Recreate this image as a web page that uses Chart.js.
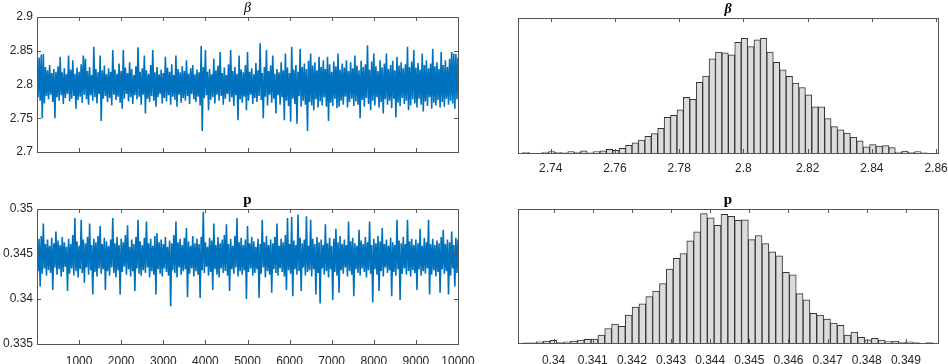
<!DOCTYPE html>
<html>
<head>
<meta charset="utf-8">
<script src="https://cdn.jsdelivr.net/npm/chart.js@4"></script>
<style>
html, body { margin: 0; padding: 0; background: #fff; width: 948px; height: 364px; overflow: hidden; }
canvas { position: absolute; }
</style>
</head>
<body>
<canvas id="betaTrace"></canvas>
<canvas id="betaHist"></canvas>
<canvas id="pTrace"></canvas>
<canvas id="pHist"></canvas>
<script>
const traceStep = 25;
const betaTrace = [
  2.835, 2.781, 2.840, 2.776, 2.844, 2.750, 2.845, 2.772, 2.826, 2.783, 2.821, 2.778, 2.829, 2.785, 2.817, 2.774, 2.823, 2.750, 2.819, 2.781,
  2.827, 2.776, 2.841, 2.784, 2.818, 2.771, 2.824, 2.780, 2.815, 2.786, 2.843, 2.775, 2.822, 2.779, 2.836, 2.783, 2.816, 2.764, 2.825, 2.777,
  2.819, 2.782, 2.830, 2.773, 2.843, 2.785, 2.838, 2.778, 2.820, 2.770, 2.826, 2.784, 2.814, 2.776, 2.856, 2.781, 2.823, 2.772, 2.818, 2.786,
  2.843, 2.746, 2.821, 2.779, 2.828, 2.783, 2.815, 2.774, 2.824, 2.780, 2.819, 2.769, 2.851, 2.785, 2.822, 2.777, 2.816, 2.782, 2.831, 2.773,
  2.820, 2.764, 2.851, 2.779, 2.825, 2.786, 2.817, 2.775, 2.833, 2.781, 2.823, 2.771, 2.814, 2.784, 2.827, 2.778, 2.855, 2.782, 2.819, 2.770,
  2.824, 2.785, 2.843, 2.757, 2.821, 2.779, 2.816, 2.774, 2.829, 2.783, 2.851, 2.776, 2.818, 2.767, 2.826, 2.781, 2.815, 2.786, 2.822, 2.772,
  2.817, 2.780, 2.841, 2.775, 2.825, 2.784, 2.819, 2.770, 2.830, 2.782, 2.814, 2.777, 2.843, 2.767, 2.823, 2.785, 2.818, 2.773, 2.827, 2.780,
  2.820, 2.776, 2.836, 2.783, 2.816, 2.771, 2.824, 2.786, 2.829, 2.778, 2.815, 2.774, 2.822, 2.782, 2.818, 2.769, 2.857, 2.731, 2.826, 2.780,
  2.851, 2.784, 2.819, 2.762, 2.823, 2.777, 2.815, 2.781, 2.838, 2.772, 2.821, 2.785, 2.828, 2.776, 2.848, 2.783, 2.817, 2.770, 2.825, 2.779,
  2.814, 2.786, 2.830, 2.774, 2.851, 2.781, 2.820, 2.768, 2.826, 2.784, 2.816, 2.747, 2.843, 2.778, 2.822, 2.773, 2.818, 2.782, 2.829, 2.762,
  2.848, 2.776, 2.819, 2.785, 2.824, 2.771, 2.815, 2.780, 2.832, 2.774, 2.821, 2.783, 2.861, 2.777, 2.817, 2.750, 2.826, 2.782, 2.851, 2.769,
  2.820, 2.785, 2.828, 2.773, 2.843, 2.779, 2.816, 2.757, 2.823, 2.784, 2.818, 2.770, 2.833, 2.781, 2.821, 2.747, 2.846, 2.776, 2.825, 2.768,
  2.817, 2.745, 2.856, 2.779, 2.822, 2.771, 2.829, 2.742, 2.819, 2.783, 2.853, 2.767, 2.826, 2.776, 2.831, 2.770, 2.823, 2.731, 2.835, 2.774,
  2.846, 2.769, 2.828, 2.762, 2.833, 2.778, 2.821, 2.766, 2.841, 2.775, 2.826, 2.769, 2.836, 2.781, 2.823, 2.767, 2.841, 2.746, 2.830, 2.773,
  2.819, 2.768, 2.834, 2.779, 2.827, 2.765, 2.846, 2.767, 2.822, 2.776, 2.831, 2.770, 2.825, 2.782, 2.836, 2.766, 2.820, 2.774, 2.833, 2.779,
  2.824, 2.768, 2.843, 2.775, 2.828, 2.770, 2.821, 2.750, 2.835, 2.777, 2.826, 2.767, 2.830, 2.780, 2.858, 2.771, 2.822, 2.762, 2.834, 2.776,
  2.846, 2.769, 2.827, 2.781, 2.820, 2.766, 2.836, 2.774, 2.825, 2.757, 2.831, 2.778, 2.846, 2.770, 2.823, 2.776, 2.829, 2.765, 2.835, 2.779,
  2.821, 2.751, 2.841, 2.773, 2.828, 2.768, 2.833, 2.780, 2.824, 2.771, 2.830, 2.776, 2.856, 2.762, 2.826, 2.769, 2.834, 2.778, 2.851, 2.772,
  2.825, 2.766, 2.832, 2.779, 2.822, 2.770, 2.846, 2.760, 2.829, 2.775, 2.836, 2.768, 2.824, 2.781, 2.831, 2.764, 2.853, 2.773, 2.827, 2.769,
  2.833, 2.777, 2.823, 2.766, 2.848, 2.774, 2.829, 2.767, 2.836, 2.779, 2.826, 2.770, 2.838, 2.776, 2.848, 2.772, 2.846, 2.764, 2.845, 2.778,
  2.840
];
const pTrace = [
  0.3463, 0.3431, 0.3467, 0.3414, 0.3470, 0.3428, 0.3484, 0.3434, 0.3461, 0.3426, 0.3466, 0.3432, 0.3459, 0.3429, 0.3468, 0.3410, 0.3462, 0.3435, 0.3475, 0.3427,
  0.3465, 0.3433, 0.3460, 0.3425, 0.3469, 0.3430, 0.3463, 0.3436, 0.3458, 0.3409, 0.3467, 0.3428, 0.3461, 0.3434, 0.3471, 0.3426, 0.3490, 0.3431, 0.3464, 0.3424,
  0.3459, 0.3433, 0.3488, 0.3429, 0.3466, 0.3418, 0.3462, 0.3435, 0.3469, 0.3427, 0.3484, 0.3432, 0.3460, 0.3405, 0.3467, 0.3430, 0.3463, 0.3425, 0.3470, 0.3434,
  0.3481, 0.3428, 0.3461, 0.3433, 0.3468, 0.3410, 0.3464, 0.3431, 0.3459, 0.3426, 0.3466, 0.3435, 0.3490, 0.3429, 0.3462, 0.3424, 0.3469, 0.3432, 0.3460, 0.3405,
  0.3467, 0.3430, 0.3463, 0.3436, 0.3471, 0.3427, 0.3482, 0.3433, 0.3458, 0.3425, 0.3466, 0.3431, 0.3461, 0.3409, 0.3469, 0.3434, 0.3488, 0.3428, 0.3464, 0.3426,
  0.3460, 0.3432, 0.3468, 0.3429, 0.3486, 0.3435, 0.3462, 0.3424, 0.3467, 0.3431, 0.3459, 0.3427, 0.3470, 0.3405, 0.3473, 0.3433, 0.3463, 0.3428, 0.3466, 0.3425,
  0.3461, 0.3434, 0.3469, 0.3430, 0.3458, 0.3426, 0.3465, 0.3392, 0.3462, 0.3432, 0.3471, 0.3429, 0.3486, 0.3424, 0.3463, 0.3435, 0.3467, 0.3427, 0.3460, 0.3431,
  0.3468, 0.3433, 0.3479, 0.3402, 0.3464, 0.3428, 0.3459, 0.3434, 0.3470, 0.3425, 0.3462, 0.3431, 0.3467, 0.3427, 0.3461, 0.3401, 0.3469, 0.3432, 0.3497, 0.3429,
  0.3463, 0.3436, 0.3458, 0.3426, 0.3468, 0.3430, 0.3465, 0.3410, 0.3484, 0.3433, 0.3460, 0.3427, 0.3469, 0.3424, 0.3462, 0.3434, 0.3466, 0.3429, 0.3471, 0.3431,
  0.3483, 0.3426, 0.3461, 0.3409, 0.3467, 0.3433, 0.3459, 0.3428, 0.3470, 0.3435, 0.3490, 0.3425, 0.3463, 0.3431, 0.3468, 0.3427, 0.3460, 0.3432, 0.3466, 0.3400,
  0.3481, 0.3430, 0.3462, 0.3434, 0.3469, 0.3426, 0.3464, 0.3429, 0.3458, 0.3433, 0.3467, 0.3401, 0.3461, 0.3428, 0.3488, 0.3435, 0.3463, 0.3424, 0.3470, 0.3431,
  0.3460, 0.3427, 0.3466, 0.3407, 0.3462, 0.3433, 0.3469, 0.3429, 0.3484, 0.3426, 0.3459, 0.3434, 0.3467, 0.3430, 0.3463, 0.3425, 0.3471, 0.3410, 0.3490, 0.3432,
  0.3461, 0.3428, 0.3491, 0.3403, 0.3465, 0.3433, 0.3460, 0.3427, 0.3494, 0.3431, 0.3468, 0.3409, 0.3462, 0.3435, 0.3466, 0.3426, 0.3492, 0.3430, 0.3459, 0.3432,
  0.3488, 0.3425, 0.3467, 0.3433, 0.3461, 0.3405, 0.3469, 0.3429, 0.3463, 0.3395, 0.3466, 0.3434, 0.3460, 0.3427, 0.3483, 0.3431, 0.3462, 0.3424, 0.3468, 0.3433,
  0.3459, 0.3399, 0.3467, 0.3430, 0.3478, 0.3426, 0.3463, 0.3407, 0.3470, 0.3432, 0.3461, 0.3428, 0.3466, 0.3435, 0.3460, 0.3425, 0.3486, 0.3431, 0.3464, 0.3427,
  0.3468, 0.3403, 0.3462, 0.3433, 0.3459, 0.3429, 0.3477, 0.3426, 0.3465, 0.3434, 0.3461, 0.3430, 0.3469, 0.3424, 0.3463, 0.3432, 0.3486, 0.3428, 0.3460, 0.3396,
  0.3467, 0.3433, 0.3462, 0.3427, 0.3470, 0.3409, 0.3464, 0.3431, 0.3479, 0.3425, 0.3461, 0.3435, 0.3466, 0.3429, 0.3459, 0.3432, 0.3468, 0.3403, 0.3463, 0.3430,
  0.3460, 0.3426, 0.3488, 0.3433, 0.3465, 0.3399, 0.3462, 0.3428, 0.3469, 0.3434, 0.3461, 0.3427, 0.3488, 0.3431, 0.3464, 0.3425, 0.3467, 0.3432, 0.3460, 0.3429,
  0.3466, 0.3410, 0.3462, 0.3433, 0.3478, 0.3426, 0.3459, 0.3431, 0.3468, 0.3428, 0.3463, 0.3434, 0.3488, 0.3405, 0.3461, 0.3427, 0.3467, 0.3432, 0.3460, 0.3425,
  0.3465, 0.3430, 0.3462, 0.3407, 0.3469, 0.3433, 0.3477, 0.3428, 0.3461, 0.3431, 0.3466, 0.3405, 0.3463, 0.3426, 0.3475, 0.3434, 0.3460, 0.3414, 0.3468, 0.3429,
  0.3466
];

// --- Histogram counts ---
const betaBinStart = 2.7313;
const betaBinWidth = 0.002;
const betaCounts = [
  3, 0, 0, 4, 6, 3, 1, 6, 4, 10,
  1, 6, 10, 16, 12, 21, 34, 45, 57, 74,
  86, 110, 159, 167, 192, 247, 238, 314, 342, 418,
  448, 445, 436, 492, 510, 473, 503, 510, 448, 403,
  370, 341, 311, 291, 259, 205, 205, 153, 117, 103,
  89, 70, 54, 27, 37, 31, 33, 24, 4, 9,
  3, 6, 1
];
const pBinStart = 0.33921;
const pBinWidth = 0.0001747;
const pCounts = [
  1, 1, 4, 7, 10, 2, 4, 7, 11, 14,
  15, 30, 54, 71, 62, 104, 134, 146, 173, 194,
  222, 276, 316, 334, 381, 415, 483, 467, 439, 480,
  473, 458, 460, 386, 401, 371, 340, 325, 264, 254,
  184, 161, 111, 104, 89, 74, 66, 30, 41, 21,
  12, 17, 11, 5, 7, 2, 4, 2, 0, 2
];

const tickFont = { family: '"Liberation Sans", Arial, sans-serif', size: 12 };
const tickColor = '#262626';
const PAD_L = 40, PAD_R = 36, PAD_B = 26;

// MATLAB-like box with inward ticks + title
const matlabAxes = {
  id: 'matlabAxes',
  afterDraw(chart, args, opts) {
    const { ctx, chartArea: a, scales } = chart;
    ctx.save();
    ctx.strokeStyle = '#555';
    ctx.lineWidth = 1;
    ctx.beginPath();
    scales.x.ticks.forEach(t => {
      const px = Math.round(scales.x.getPixelForValue(t.value)) + 0.5;
      ctx.moveTo(px, a.bottom); ctx.lineTo(px, a.bottom - 4);
      ctx.moveTo(px, a.top); ctx.lineTo(px, a.top + 4);
    });
    if (opts.yTicks) {
      scales.y.ticks.forEach(t => {
        const py = Math.round(scales.y.getPixelForValue(t.value)) + 0.5;
        ctx.moveTo(a.left, py); ctx.lineTo(a.left + 4, py);
        ctx.moveTo(a.right, py); ctx.lineTo(a.right - 4, py);
      });
    }
    ctx.stroke();
    ctx.strokeRect(a.left + 0.5, a.top + 0.5, a.width, a.height);

    ctx.fillStyle = '#000';
    ctx.font = opts.titleFont;
    ctx.textAlign = 'center';
    ctx.textBaseline = 'alphabetic';
    ctx.fillText(opts.title, (a.left + a.right) / 2, a.top - 5);
    ctx.restore();
  }
};

function placeCanvas(id, area) {
  const padTop = Math.min(20, area.top);
  const c = document.getElementById(id);
  c.width = area.width + PAD_L + PAD_R;
  c.height = area.height + padTop + PAD_B;
  c.style.width = c.width + 'px';
  c.style.height = c.height + 'px';
  c.style.left = (area.left - PAD_L) + 'px';
  c.style.top = (area.top - padTop) + 'px';
  return { canvas: c, padTop };
}

function fmt(v, d) {
  return String(Number(v.toFixed(d)));
}

function traceChart(id, area, values, yMin, yMax, yStep, yDec, showX, title, titleFont) {
  const { canvas, padTop } = placeCanvas(id, area);
  return new Chart(canvas, {
    type: 'line',
    data: {
      datasets: [{
        data: values.map((v, i) => ({ x: i * traceStep, y: v })),
        borderColor: '#0072BD',
        borderWidth: 1.6,
        pointRadius: 0,
        tension: 0,
        fill: false
      }]
    },
    options: {
      responsive: false,
      animation: false,
      devicePixelRatio: 1,
      layout: { padding: { top: padTop, right: PAD_R, left: 0, bottom: 0 } },
      scales: {
        x: {
          type: 'linear', min: 0, max: 10000,
          grid: { display: false, drawTicks: false }, border: { display: false },
          ticks: {
            stepSize: 1000, padding: 10, color: tickColor, font: tickFont, maxRotation: 0,
            callback: v => (showX && v > 0) ? String(v) : ''
          },
          afterFit: s => { s.height = PAD_B; }
        },
        y: {
          min: yMin, max: yMax,
          grid: { display: false, drawTicks: false }, border: { display: false },
          ticks: { stepSize: yStep, padding: 4, color: tickColor, font: tickFont, callback: v => fmt(v, yDec) },
          afterFit: s => { s.width = PAD_L; }
        }
      },
      plugins: {
        legend: { display: false },
        tooltip: { enabled: false },
        matlabAxes: { title: title, titleFont: titleFont, yTicks: true }
      }
    },
    plugins: [matlabAxes]
  });
}

function histChart(id, area, counts, binStart, binWidth, xMin, xMax, xStep, xDec, yMax, labelPad, title, titleFont) {
  const { canvas, padTop } = placeCanvas(id, area);
  return new Chart(canvas, {
    type: 'bar',
    data: {
      datasets: [{
        data: counts.map((c, i) => ({ x: binStart + binWidth * (i + 0.5), y: c })),
        backgroundColor: '#dcdcdc',
        borderColor: '#333',
        borderWidth: 1,
        barPercentage: 1,
        categoryPercentage: 1,
        grouped: false
      }]
    },
    options: {
      responsive: false,
      animation: false,
      devicePixelRatio: 1,
      layout: { padding: { top: padTop, right: PAD_R, left: 0, bottom: 0 } },
      scales: {
        x: {
          type: 'linear', min: xMin, max: xMax, offset: false,
          grid: { display: false, drawTicks: false, offset: false }, border: { display: false },
          ticks: {
            stepSize: xStep, includeBounds: false, padding: labelPad, color: tickColor, font: tickFont,
            maxRotation: 0, autoSkip: false, callback: v => fmt(v, xDec)
          },
          afterFit: s => { s.height = PAD_B; }
        },
        y: {
          min: 0, max: yMax,
          grid: { display: false, drawTicks: false }, border: { display: false },
          ticks: { display: false },
          afterFit: s => { s.width = PAD_L; }
        }
      },
      plugins: {
        legend: { display: false },
        tooltip: { enabled: false },
        matlabAxes: { title: title, titleFont: titleFont, yTicks: false }
      }
    },
    plugins: [matlabAxes]
  });
}

const serif = '"Liberation Serif", "Times New Roman", serif';

traceChart('betaTrace', { left: 37, top: 17, width: 421, height: 135 },
  betaTrace, 2.7, 2.9, 0.05, 2, false, 'β', 'italic 14px ' + serif);

histChart('betaHist', { left: 518, top: 18, width: 420, height: 135 },
  betaCounts, betaBinStart, betaBinWidth, 2.7298, 2.8606, 0.02, 2, 600, 8,
  'β', 'bold italic 14px ' + serif);

traceChart('pTrace', { left: 37, top: 209, width: 421, height: 135 },
  pTrace, 0.335, 0.35, 0.005, 3, true, 'p', 'bold 15px ' + serif);

histChart('pHist', { left: 518, top: 209, width: 420, height: 134 },
  pCounts, pBinStart, pBinWidth, 0.33909, 0.34982, 0.001, 3, 500, 10,
  'p', 'bold 15px ' + serif);
</script>
</body>
</html>
